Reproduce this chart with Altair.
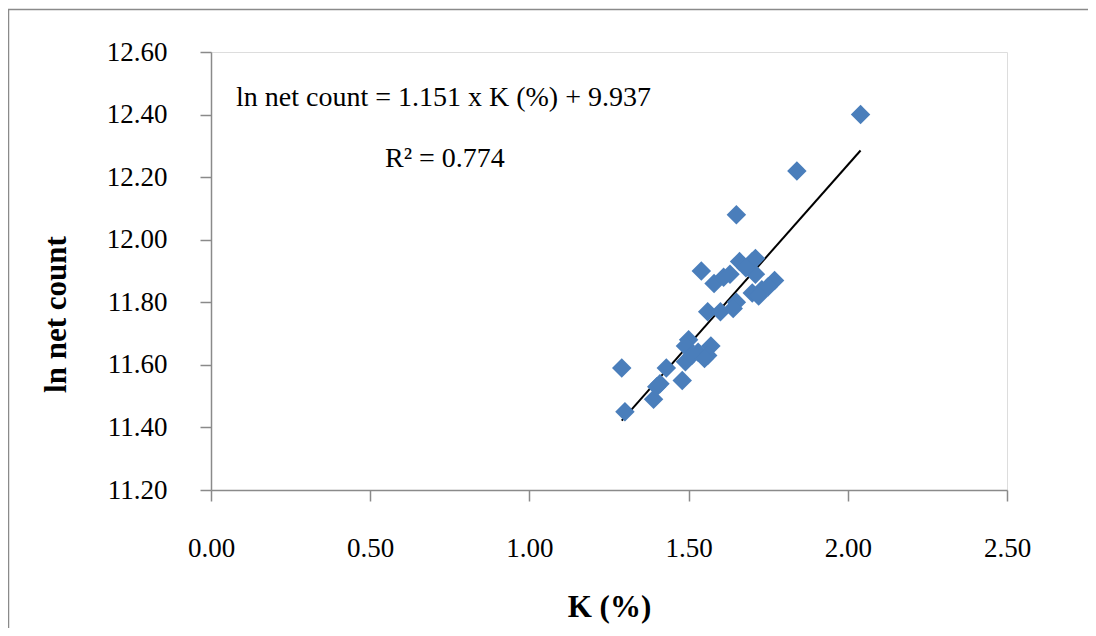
import altair as alt
import pandas as pd

# Data
k_pct = [2.04, 1.84, 1.65, 1.54, 1.58, 1.61, 1.63, 1.66, 1.70, 1.71, 1.71, 1.68,
         1.56, 1.60, 1.65, 1.64, 1.70, 1.73, 1.77, 1.75, 1.72,
         1.29, 1.30, 1.39, 1.40, 1.43, 1.48, 1.49, 1.50, 1.49, 1.53, 1.57, 1.56,
         1.51, 1.55, 1.41]
ln_count = [12.40, 12.22, 12.08, 11.90, 11.86, 11.88, 11.89, 11.93, 11.93, 11.94, 11.89, 11.91,
            11.77, 11.77, 11.80, 11.78, 11.83, 11.84, 11.87, 11.85, 11.82,
            11.59, 11.45, 11.49, 11.53, 11.59, 11.55, 11.61, 11.68, 11.66, 11.64, 11.66, 11.63,
            11.63, 11.62, 11.54]

slope = 1.151
intercept = 9.937
fit_x = [1.29, 2.04]
fit_y = [slope * v + intercept for v in fit_x]

x_ticks = [0.0, 0.5, 1.0, 1.5, 2.0, 2.5]
y_ticks = [11.2, 11.4, 11.6, 11.8, 12.0, 12.2, 12.4, 12.6]

eq_text = "ln net count = 1.151 x K (%) + 9.937"
r2_text = "R² = 0.774"

pts = pd.DataFrame({"k": k_pct, "ln": ln_count})
fit = pd.DataFrame({"k": fit_x, "ln": fit_y})

FONT = "Liberation Serif"
AX = "#8a8a8a"

xs = alt.Scale(domain=[0, 2.5], nice=False, zero=False)
ys = alt.Scale(domain=[11.2, 12.6], nice=False, zero=False)

x_axis = alt.Axis(values=x_ticks, format=".2f", grid=False, domainColor=AX, tickColor=AX,
                  tickSize=11, domainWidth=1.5, tickWidth=1.5, labelFont=FONT, labelFontSize=27,
                  labelColor="black", labelPadding=34, labelFlush=False, title="K (%)",
                  titleFont=FONT, titleFontSize=31, titleFontWeight="bold", titleColor="black",
                  titleY=117, titleBaseline="middle")
y_axis = alt.Axis(values=y_ticks, format=".2f", grid=False, domainColor=AX, tickColor=AX,
                  tickSize=11, domainWidth=1.5, tickWidth=1.5, labelFont=FONT, labelFontSize=27,
                  labelColor="black", labelPadding=33, labelFlush=False, title="ln net count",
                  titleFont=FONT, titleFontSize=31, titleFontWeight="bold", titleColor="black",
                  titleX=-155, titleY=262, titleAngle=270, titleAlign="center",
                  titleBaseline="middle")

points = alt.Chart(pts).mark_point(shape="diamond", filled=True, size=380, color="#4a7ebb",
                                   opacity=1).encode(
    x=alt.X("k:Q", scale=xs, axis=x_axis),
    y=alt.Y("ln:Q", scale=ys, axis=y_axis),
)

line = alt.Chart(fit).mark_line(color="black", strokeWidth=2).encode(
    x=alt.X("k:Q", scale=xs),
    y=alt.Y("ln:Q", scale=ys),
)

eq = alt.Chart(pd.DataFrame({"t": [eq_text]})).mark_text(
    font=FONT, fontSize=28, align="left", baseline="alphabetic", color="black"
).encode(x=alt.value(25), y=alt.value(54), text="t:N")

r2 = alt.Chart(pd.DataFrame({"t": [r2_text]})).mark_text(
    font=FONT, fontSize=28, align="left", baseline="alphabetic", color="black"
).encode(x=alt.value(174), y=alt.value(115), text="t:N")

frame = alt.Chart(pd.DataFrame({"a": [0]})).mark_rect(
    filled=False, stroke="#8a8a8a", strokeWidth=1.5, clip=False
).encode(x=alt.value(-202.5), x2=alt.value(1000), y=alt.value(-42.5), y2=alt.value(700))

chart = alt.layer(frame, line, points, eq, r2).properties(
    width=796, height=438,
    autosize=alt.AutoSizeParams(type="none"),
    padding={"left": 203, "top": 44, "right": 81, "bottom": 138},
).configure_view(stroke=None).configure(background="white")

chart.save("out.html", embed_options={"renderer": "svg", "actions": False})
